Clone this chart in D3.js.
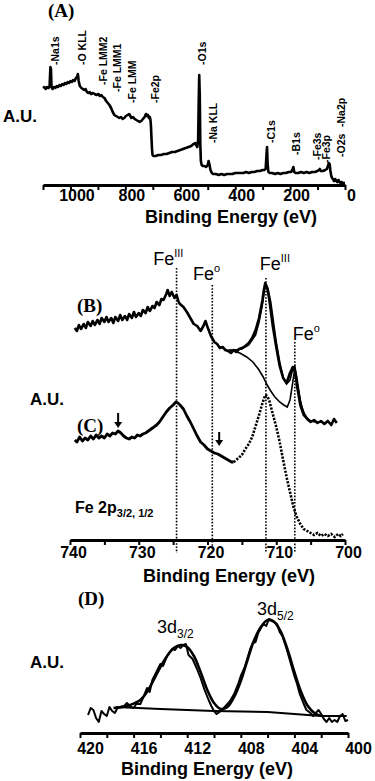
<!DOCTYPE html>
<html>
<head>
<meta charset="utf-8">
<script src="https://cdn.jsdelivr.net/npm/d3@7"></script>
<style>
body { margin: 0; background: #fff; }
svg { display: block; }
</style>
</head>
<body>
<svg></svg>
<script>
var width = 375
var height = 781

// (A) survey: [binding energy eV, intensity a.u.]
var surveyA = [[1100,97],[1095,98],[1090,96],[1085,98],[1080,97],[1076,99],[1073,118],[1071,116],[1069,98],[1065,96],[1060,98],[1055,97],[1050,99],[1045,98],[1040,100],[1035,99],[1030,101],[1025,100],[1020,102],[1015,101],[1010,103],[1005,102],[1000,104],[995,103],[990,105],[985,104],[980,107],[976,108],[973,111],[970,104],[966,99],[960,97],[955,96],[950,95],[945,96],[940,93],[935,92],[930,93],[925,91],[918,92],[912,91],[905,90],[898,91],[893,89],[888,90],[882,88],[876,87],[870,84],[864,82],[858,80],[852,77],[846,73],[840,70],[834,69],[828,68],[822,67],[816,68],[810,66],[804,67],[798,69],[792,70],[786,71],[782,69],[778,67],[772,68],[766,66],[760,65],[754,64],[748,63],[742,64],[736,66],[730,68],[725,71],[722,69],[718,70],[714,67],[711,68],[709,66],[707,60],[705,48],[703,36],[701,30],[698,29],[690,29],[680,30],[670,30],[660,31],[650,31],[640,32],[630,33],[620,33],[610,34],[600,35],[590,36],[580,37],[570,38],[560,39],[552,41],[546,42],[542,40],[538,38],[535,45],[533,80],[531,110],[529,90],[527,40],[525,24],[522,20],[518,19],[512,19],[506,18],[500,20],[497,24],[494,21],[490,15],[485,12],[480,11],[470,11],[460,10],[450,11],[440,10],[430,11],[420,11],[410,11],[400,12],[390,12],[380,12],[370,12],[360,13],[350,12],[340,13],[330,13],[320,14],[310,14],[300,15],[294,15],[289,16],[286,30],[284,38],[282,22],[279,13],[274,12],[265,12],[255,11],[245,12],[235,11],[225,12],[215,12],[205,13],[196,13],[191,16],[188,18],[185,13],[180,12],[170,12],[160,13],[150,12],[140,13],[130,12],[120,13],[110,13],[100,14],[95,15],[92,16],[88,14],[80,14],[72,15],[66,16],[62,19],[59,22],[56,21],[53,14],[50,9],[47,7],[44,6],[40,4],[36,6],[32,4],[28,3],[24,5],[20,3],[16,2],[12,3],[8,2],[4,2],[0,2]]

// peak labels: [text, label energy, label foot intensity]
var surveyPeaks = [["-Na1s",1056,120],["-O KLL",958,120],["-Fe LMM2",882,100],["-Fe LMM1",831,93],["-Fe LMM",776,82],["-Fe2p",692,82],["-O1s",521,120],["-Na KLL",481,42],["-C1s",270,42],["-B1s",179,30],["-Fe3s",102,25],["-Fe3p",69,22],["-O2s",15,28],["-Na2p",15,58]]
var ticksA = [1100,1000,900,800,700,600,500,400,300,200,100,0]

// (B) Fe 2p raw, fit envelope, background + Fe(0) component
var feB = [[739.3,212],[739,209],[738.7,215],[738.4,211],[738,216],[737.7,212],[737.4,218],[737,214],[736.7,219],[736.4,215],[736,220],[735.7,216],[735.4,222],[735,218],[734.7,223],[734.4,218],[734,222],[733.7,217],[733.4,223],[733,219],[732.7,225],[732.4,220],[732,224],[731.7,220],[731.4,226],[731,222],[730.7,228],[730.4,223],[730,227],[729.7,224],[729.4,230],[729,227],[728.7,233],[728.4,229],[728,234],[727.7,232],[727.4,238],[727,235],[726.7,241],[726.4,240],[726,246],[725.8,250],[725.5,244],[725.2,248],[724.8,242],[724.5,245],[724.2,238],[724,236],[723.5,233],[723,228],[722.5,222],[722,216],[721.5,214],[721,209],[720.6,214],[720.3,219],[720,213],[719.5,204],[719,198],[718.6,196],[718.2,192],[717.8,193],[717.4,190],[717,189],[716.6,187],[716.2,190],[715.8,188],[715.4,191],[715,192],[714.5,194],[714,197],[713.5,202],[713,210],[712.5,222],[712,240],[711.8,250],[711.6,257],[711.3,252],[711,240],[710.5,214],[710,193],[709.5,174],[709,162],[708.5,157],[708,167],[707.6,173],[707.2,167],[707,155],[706.5,135],[706,125],[705.5,121],[705,118],[704.5,120],[704,117],[703.5,119],[703,116],[702.5,119],[702,115],[701.6,121],[701.2,117]]
var fitB = [[717,190],[716,190],[715,191],[714,195],[713,205],[712.5,218],[712,236],[711.6,256],[711.2,251],[710.8,238],[710.4,218],[710,198],[709.5,178],[709,163],[708.5,156],[708,160],[707.6,171],[707.3,174],[707,162],[706.5,139],[706,127],[705.5,121],[705,119],[704,118]]
var bgB = [[716.7,190],[715.3,187],[714.3,183],[713.4,178],[712.6,171],[711.9,163],[711.4,156],[710.9,150],[710.2,143],[709.5,138],[708.9,135],[708.4,133],[708,140],[707.7,153],[707.4,167],[707.1,162],[706.8,151],[706.5,140],[706.3,133],[705.9,126],[705.5,122],[705,119],[704,118]]

// (C) Fe 2p after treatment
var feC = [[739.3,100],[739,98],[738.6,103],[738.2,99],[737.8,102],[737.4,100],[737,104],[736.6,101],[736.2,105],[735.8,102],[735.4,104],[735,102],[734.6,106],[734.2,104],[733.8,107],[733.4,106],[733,109],[732.6,107],[732.2,104],[731.8,102],[731.4,101],[731,103],[730.6,102],[730.2,105],[729.8,104],[729.4,106],[729,107],[728.6,109],[728.2,111],[727.8,113],[727.4,115],[727,118],[726.5,123],[726,128],[725.5,132],[725,135],[724.6,138],[724.3,137],[724,135],[723.5,131],[723,124],[722.5,118],[722,111],[721.5,104],[721,98],[720.5,95],[720,91],[719.5,89],[719,87],[718.5,86],[718,84],[717.5,82],[717,80],[716.5,78],[716.2,78]]
var feCdot = [[716.2,78],[716,79],[715.5,82],[715,85],[714.5,91],[714,96],[713.5,103],[713,114],[712.5,125],[712,137],[711.6,145],[711.3,144],[711,139],[710.5,126],[710,113],[709.5,98],[709,80],[708.5,63],[708,48],[707.5,33],[707,23],[706.5,16],[706,11],[705.5,9],[705,7],[704.5,5],[704,7],[703.5,4],[703,6],[702.5,4],[702,6],[701.5,3],[701,6],[700.6,4],[700.3,6]]
var arrowsC = [[733.0,127,112],[718.3,108,94]]

// reference lines: [energy, top intensity]
var feLines = [[724.5,272],[719.3,255],[711.5,262],[707.3,198]]
// [main text, superscript, start energy, baseline intensity]
var feLabels = [["Fe","III",727.9,275],["Fe","o",722.1,260],["Fe","III",712.4,270],["Fe","o",707.6,200]]
var ticksBC = [740,735,730,725,720,715,710,705,700]

// (D) 3d doublet
var rawD = [[419.4,18],[419.2,25],[419,23],[418.8,15],[418.6,11],[418.4,22],[418.2,19],[418,17],[417.8,26],[417.6,22],[417.4,20],[417.2,25],[417,26],[416.7,27],[416.5,30],[416.2,26],[416,25],[415.8,29],[415.5,29],[415.3,35],[415,45],[414.8,41],[414.6,53],[414.3,61],[414,69],[413.8,67],[413.5,77],[413.3,81],[413.1,84],[412.9,83],[412.7,87],[412.5,85],[412.3,88],[412.1,89],[411.9,78],[411.6,74],[411.3,65],[411,55],[410.7,43],[410.4,33],[410.2,27],[410,22],[409.8,19],[409.6,21],[409.4,23],[409.2,26],[409,29],[408.8,32],[408.5,39],[408.2,49],[408,57],[407.7,66],[407.5,75],[407.3,84],[407.1,90],[406.9,91],[406.7,100],[406.5,105],[406.3,109],[406.1,107],[405.9,114],[405.6,112],[405.3,109],[405.1,101],[404.9,97],[404.6,85],[404.3,71],[404,57],[403.8,49],[403.6,39],[403.3,29],[403.1,23],[402.8,20],[402.6,17],[402.4,20],[402.2,23],[402,19],[401.8,14],[401.6,11],[401.4,15],[401.2,11],[401,13],[400.8,11],[400.6,17],[400.4,19],[400.2,12],[400,13]]
var fitD = [[417.5,25],[416.5,27],[415.5,33],[415,41],[414.5,53],[414,66],[413.5,77],[413,85],[412.5,88],[412,86],[411.5,77],[411,61],[410.5,43],[410,30],[409.5,24],[409,26],[408.5,36],[408,52],[407.5,73],[407,93],[406.5,106],[406,113],[405.5,111],[405,101],[404.5,83],[404,61],[403.5,41],[403,27],[402.5,20],[402,17]]
var bgD = [[417.3,26],[414,24],[410,22],[406,21],[404,19],[402,17],[400.1,17]]
var ticksD = [420,418,416,414,412,410,408,406,404,402,400]

var svg = d3.select("svg")
    .attr("width", width)
    .attr("height", height)
    .style("font-family", "'Liberation Sans', Arial, sans-serif")

var xA = d3.scaleLinear().domain([1100, 0]).range([43, 345])
var yA = d3.scaleLinear().domain([0, 140]).range([185, 45])
var xB = d3.scaleLinear().domain([740, 700]).range([70, 345])
var yB = d3.scaleLinear().domain([0, 300]).range([540, 240])
var xD = d3.scaleLinear().domain([420, 400]).range([80, 348])
var yD = d3.scaleLinear().domain([0, 130]).range([733, 603])

function drawAxis(x, y0, ticks, step, dx, ty) {
    var axis = d3.axisBottom(x)
        .tickValues(ticks)
        .tickFormat(d => d % step === 0 ? d : "")
        .tickSize(5)
        .tickSizeOuter(0)
    var g = svg.append("g")
        .attr("transform", `translate(0, ${y0})`)
        .call(axis)
    g.select(".domain").attr("stroke", "#000").attr("stroke-width", 2.8)
    g.selectAll(".tick line").attr("stroke", "#000").attr("stroke-width", 2)
    g.selectAll(".tick text")
        .attr("y", ty)
        .attr("dx", dx)
        .attr("fill", "#000")
        .style("font-family", "'Liberation Sans', Arial, sans-serif")
        .style("font-weight", "bold")
        .style("font-size", "16px")
}

function line(x, y) {
    return d3.line().x(d => x(d[0])).y(d => y(d[1]))
}

function label(x, y, txt, size, weight, family) {
    return svg.append("text")
        .attr("x", x)
        .attr("y", y)
        .style("font-size", size)
        .style("font-weight", weight || "normal")
        .style("font-family", family || "'Liberation Sans', Arial, sans-serif")
        .text(txt)
}

// ---- panel A
drawAxis(xA, 185, ticksA, 200, 6, 5)

svg.append("path")
    .attr("d", line(xA, yA)(surveyA))
    .attr("fill", "none")
    .attr("stroke", "#000")
    .attr("stroke-width", 2.6)
    .attr("stroke-linejoin", "round")

svg.selectAll(".peak")
    .data(surveyPeaks)
    .enter()
    .append("text")
    .attr("class", "peak")
    .attr("transform", d => `translate(${xA(d[1]) + 4}, ${yA(d[2])}) rotate(-90)`)
    .style("font-size", "10.5px")
    .style("font-weight", "bold")
    .text(d => d[0])

label(48, 17, "(A)", "19px", "bold", "'Liberation Serif', 'Times New Roman', serif")
label(3, 122, "A.U.", "17px", "bold")
label(231, 223, "Binding Energy (eV)", "18px", "bold").style("text-anchor", "middle")

// ---- panels B and C
drawAxis(xB, 540, ticksBC, 10, 3, 7)

svg.selectAll(".feline")
    .data(feLines)
    .enter()
    .append("line")
    .attr("x1", d => xB(d[0]))
    .attr("x2", d => xB(d[0]))
    .attr("y1", d => yB(d[1]))
    .attr("y2", yB(-13))
    .attr("stroke", "#000")
    .attr("stroke-width", 1.6)
    .attr("stroke-dasharray", "1.6,1.6")

svg.append("path")
    .attr("d", line(xB, yB)(bgB))
    .attr("fill", "none")
    .attr("stroke", "#000")
    .attr("stroke-width", 1.6)

svg.append("path")
    .attr("d", line(xB, yB)(fitB))
    .attr("fill", "none")
    .attr("stroke", "#000")
    .attr("stroke-width", 1.6)

svg.append("path")
    .attr("d", line(xB, yB)(feB))
    .attr("fill", "none")
    .attr("stroke", "#000")
    .attr("stroke-width", 2.6)
    .attr("stroke-linejoin", "round")

svg.append("path")
    .attr("d", line(xB, yB)(feC))
    .attr("fill", "none")
    .attr("stroke", "#000")
    .attr("stroke-width", 2.8)
    .attr("stroke-linejoin", "round")

svg.append("path")
    .attr("d", line(xB, yB)(feCdot))
    .attr("fill", "none")
    .attr("stroke", "#000")
    .attr("stroke-width", 2.6)
    .attr("stroke-dasharray", "2.2,1.4")

var arrows = svg.selectAll(".arrow")
    .data(arrowsC)
    .enter()
    .append("g")
    .attr("class", "arrow")
arrows.append("line")
    .attr("x1", d => xB(d[0]))
    .attr("x2", d => xB(d[0]))
    .attr("y1", d => yB(d[1]))
    .attr("y2", d => yB(d[2]) - 5)
    .attr("stroke", "#000")
    .attr("stroke-width", 2)
arrows.append("path")
    .attr("d", d => `M${xB(d[0]) - 4},${yB(d[2]) - 6} L${xB(d[0]) + 4},${yB(d[2]) - 6} L${xB(d[0])},${yB(d[2])} Z`)
    .attr("fill", "#000")

var fl = svg.selectAll(".fel")
    .data(feLabels)
    .enter()
    .append("text")
    .attr("class", "fel")
    .attr("x", d => xB(d[2]))
    .attr("y", d => yB(d[3]))
    .style("font-size", "18px")
fl.append("tspan").text(d => d[0])
fl.append("tspan")
    .attr("dy", -8)
    .style("font-size", "11px")
    .text(d => d[1])

label(77, 312, "(B)", "19px", "bold", "'Liberation Serif', 'Times New Roman', serif")
label(77, 432, "(C)", "19px", "bold", "'Liberation Serif', 'Times New Roman', serif")
label(30, 405, "A.U.", "17px", "bold")

var fe2p = label(75, 513, "Fe 2p", "16px", "bold")
fe2p.append("tspan").attr("dy", 4).style("font-size", "11px").text("3/2, 1/2")

label(229, 582, "Binding Energy (eV)", "18px", "bold").style("text-anchor", "middle")

// ---- panel D
drawAxis(xD, 733, ticksD, 4, 10, 10)

svg.append("path")
    .attr("d", line(xD, yD)(bgD))
    .attr("fill", "none")
    .attr("stroke", "#000")
    .attr("stroke-width", 2)

svg.append("path")
    .attr("d", line(xD, yD)(rawD))
    .attr("fill", "none")
    .attr("stroke", "#000")
    .attr("stroke-width", 2)
    .attr("stroke-linejoin", "round")

svg.append("path")
    .attr("d", d3.line().curve(d3.curveCatmullRom).x(d => xD(d[0])).y(d => yD(d[1]))(fitD))
    .attr("fill", "none")
    .attr("stroke", "#000")
    .attr("stroke-width", 2.6)

label(78, 605, "(D)", "19px", "bold", "'Liberation Serif', 'Times New Roman', serif")
label(30, 668, "A.U.", "17px", "bold")

var d32 = label(157, 633, "3d", "18px")
d32.append("tspan").attr("dy", 5).style("font-size", "12px").text("3/2")
var d52 = label(257, 615, "3d", "18px")
d52.append("tspan").attr("dy", 5).style("font-size", "12px").text("5/2")

label(207, 775, "Binding Energy (eV)", "18px", "bold").style("text-anchor", "middle")
</script>
</body>
</html>
